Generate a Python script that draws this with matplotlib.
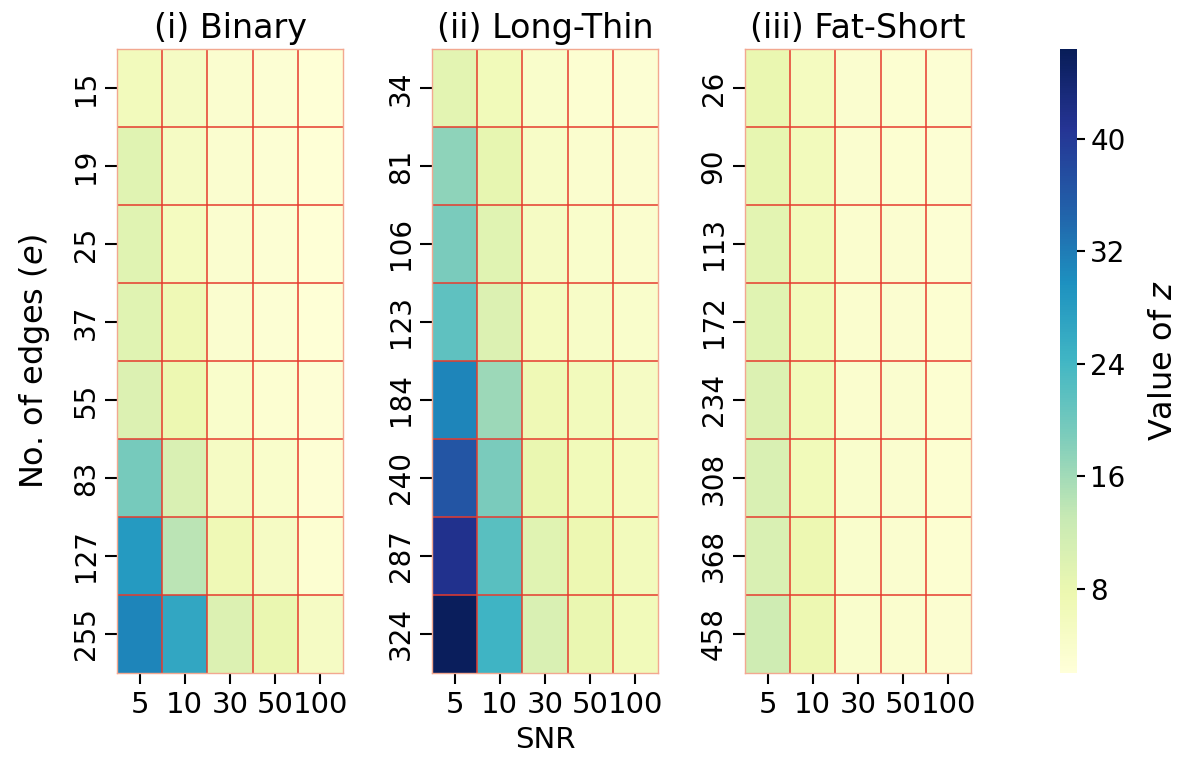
import numpy as np
import matplotlib
matplotlib.use("Agg")
import matplotlib.pyplot as plt
import seaborn as sns

# Datos
snr = ["5", "10", "30", "50", "100"]

edges_binary = ["15", "19", "25", "37", "55", "83", "127", "255"]
z_binary = [
    [6.0, 5.0, 3.5, 3.0, 2.5],
    [9.5, 5.0, 3.5, 3.0, 2.5],
    [9.5, 5.5, 3.5, 3.0, 2.5],
    [9.5, 7.0, 3.5, 3.0, 2.5],
    [10.0, 7.5, 4.0, 3.2, 2.6],
    [19.5, 10.5, 5.0, 4.0, 2.8],
    [28.5, 14.0, 7.0, 5.0, 3.2],
    [31.0, 26.5, 10.0, 8.0, 5.0],
]

edges_long = ["34", "81", "106", "123", "184", "240", "287", "324"]
z_long = [
    [9.0, 6.5, 4.0, 3.2, 3.0],
    [17.5, 8.5, 4.5, 3.6, 3.3],
    [19.0, 9.5, 5.0, 4.0, 3.6],
    [21.5, 10.0, 5.5, 4.5, 4.0],
    [31.0, 16.5, 7.0, 6.0, 5.0],
    [36.5, 19.0, 8.0, 6.5, 5.5],
    [41.5, 22.0, 9.5, 7.5, 6.0],
    [46.0, 24.5, 10.5, 8.0, 6.5],
]

edges_fat = ["26", "90", "113", "172", "234", "308", "368", "458"]
z_fat = [
    [8.0, 5.5, 3.5, 3.2, 3.0],
    [8.5, 6.0, 3.5, 3.2, 3.0],
    [9.0, 6.0, 3.6, 3.3, 3.0],
    [9.5, 6.0, 3.6, 3.3, 3.1],
    [10.0, 6.2, 3.7, 3.4, 3.1],
    [10.5, 6.5, 3.8, 3.5, 3.2],
    [10.5, 7.5, 3.8, 3.5, 3.2],
    [12.0, 7.5, 3.9, 3.6, 3.3],
]

titles = ["(i) Binary", "(ii) Long-Thin", "(iii) Fat-Short"]
cbar_ticks = [8, 16, 24, 32, 40]
vmin, vmax = 2.0, 46.4

fig = plt.figure(figsize=(11.77, 7.63), dpi=100)
W, H = 1177, 763
lefts = [117, 432, 745]
axes = [fig.add_axes([l / W, 90 / H, 226 / W, 624 / H]) for l in lefts]
cax = fig.add_axes([1060 / W, 90 / H, 17 / W, 624 / H])

panels = [(z_binary, edges_binary), (z_long, edges_long), (z_fat, edges_fat)]
for i, (ax, (z, rows)) in enumerate(zip(axes, panels)):
    z = np.array(z)
    sns.heatmap(z, ax=ax, cmap="YlGnBu", vmin=vmin, vmax=vmax,
                xticklabels=snr, yticklabels=rows,
                cbar=(i == 2), cbar_ax=cax if i == 2 else None)
    # lineas de la cuadricula en rojo
    nr, nc = z.shape
    ax.hlines(np.arange(1, nr), 0, nc, colors="#e63b2e", linewidth=1.1)
    ax.vlines(np.arange(1, nc), 0, nr, colors="#e63b2e", linewidth=1.1)
    for s in ax.spines.values():
        s.set_visible(True)
        s.set_color("#f2a890")
        s.set_linewidth(1.0)
    ax.set_title(titles[i], fontsize=24, pad=8)
    ax.tick_params(axis="y", length=9, width=1.5)
    ax.tick_params(axis="x", length=8, width=1.5, pad=5)
    ax.set_yticklabels(rows, rotation=90, va="center", fontsize=20)
    ax.set_xticklabels(snr, rotation=0, fontsize=21)

axes[0].set_ylabel("No. of edges ($e$)", fontsize=23, labelpad=14)
axes[1].set_xlabel("SNR", fontsize=21, labelpad=5)

cax.tick_params(labelsize=20, length=6, width=1.5)
cax.set_yticks(cbar_ticks)
cax.set_ylabel("Value of $z$", fontsize=23, labelpad=16)
for s in cax.spines.values():
    s.set_visible(False)

fig.savefig("out.png", dpi=100)
